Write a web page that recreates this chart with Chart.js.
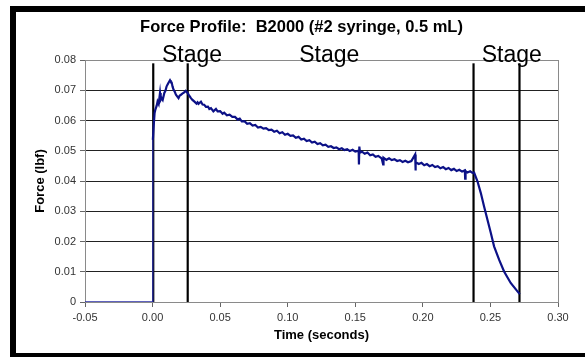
<!DOCTYPE html>
<html>
<head>
<meta charset="utf-8">
<script src="https://cdn.jsdelivr.net/npm/chart.js@4.4.1/dist/chart.umd.min.js"></script>
<style>
    html, body { margin: 0; padding: 0; background: #fff; overflow: hidden; }
    #wrap { position: relative; width: 585px; height: 357px; }
    #frame {
        position: absolute; left: 10px; top: 6px; width: 700px; height: 353px;
        box-sizing: border-box; border: 6px solid #000; border-right: none;
        pointer-events: none;
    }
</style>
</head>
<body>
<div id="wrap">
    <canvas id="myChart" width="585" height="357"></canvas>
    <div id="frame"></div>
</div>
<script>
// baseline before the plunger moves
var baseTime = [-0.05, 0.0, 0.0002];
var baseForce = [0, 0, 0.0536];

// force trace (seconds, lbf)
var timeData = [
    0.0002, 0.0008, 0.0015, 0.002, 0.003, 0.0037, 0.0045, 0.0055, 0.006, 0.0067,
    0.0075, 0.0087, 0.0095, 0.0104, 0.0115, 0.0129, 0.0135, 0.0141, 0.0148, 0.0155,
    0.0165, 0.0173, 0.0182, 0.0192, 0.020, 0.021, 0.022, 0.0234, 0.0245, 0.0259,
    0.027, 0.0284, 0.0295, 0.0308, 0.0325, 0.0333, 0.034, 0.0358, 0.037, 0.0382,
    0.0395, 0.041, 0.042, 0.0432, 0.045, 0.0469, 0.0481, 0.050, 0.0518, 0.053,
    0.055, 0.057, 0.059, 0.061, 0.063, 0.0645, 0.066, 0.068, 0.070, 0.072,
    0.074, 0.076, 0.078, 0.080, 0.082, 0.084, 0.086, 0.088, 0.090, 0.092,
    0.094, 0.096, 0.098, 0.100, 0.102, 0.104, 0.106, 0.108, 0.110, 0.112,
    0.114, 0.116, 0.118, 0.120, 0.122, 0.124, 0.126, 0.128, 0.130, 0.132,
    0.134, 0.136, 0.138, 0.140, 0.142, 0.144, 0.146, 0.148, 0.150, 0.1525,
    0.1527, 0.1530, 0.1535, 0.155, 0.157, 0.159, 0.161, 0.163, 0.165, 0.167,
    0.1695, 0.1706, 0.1709, 0.173, 0.175, 0.177, 0.179, 0.181, 0.183, 0.185,
    0.187, 0.189, 0.1915, 0.1943, 0.1945, 0.1948, 0.197, 0.199, 0.201, 0.203,
    0.205, 0.207, 0.209, 0.211, 0.213, 0.215, 0.217, 0.219, 0.221, 0.223,
    0.225, 0.227, 0.229, 0.2311, 0.2313, 0.2316, 0.233, 0.235, 0.2367, 0.2379,
    0.2404, 0.2429, 0.2453, 0.2478, 0.2503, 0.2527, 0.2564, 0.2601, 0.265, 0.27,
    0.2717
];
var forceData = [
    0.0536, 0.058, 0.0625, 0.0635, 0.0648, 0.0663, 0.0655, 0.0691, 0.0668, 0.0674,
    0.0668, 0.0691, 0.0698, 0.0713, 0.0722, 0.0733, 0.0728, 0.0726, 0.0712, 0.0702,
    0.0694, 0.0685, 0.0680, 0.0674, 0.0682, 0.0685, 0.0689, 0.0693, 0.0698, 0.0691,
    0.0683, 0.0674, 0.0668, 0.0663, 0.0656, 0.0660, 0.0655, 0.0662, 0.0653, 0.0652,
    0.0645, 0.0646, 0.0638, 0.0641, 0.0630, 0.0638, 0.0630, 0.0631, 0.0622, 0.0626,
    0.0617, 0.0619, 0.0612, 0.0612, 0.0603, 0.0606, 0.0597, 0.0598, 0.0589, 0.0591,
    0.0583, 0.0585, 0.0577, 0.0579, 0.0573, 0.0575, 0.0568, 0.0570, 0.0563, 0.0566,
    0.0558, 0.0561, 0.0553, 0.0556, 0.0549, 0.0551, 0.0543, 0.0546, 0.0537, 0.0540,
    0.0532, 0.0535, 0.0527, 0.0530, 0.0522, 0.0525, 0.0518, 0.0520, 0.0513, 0.0515,
    0.0509, 0.0511, 0.0505, 0.0508, 0.0502, 0.0505, 0.0499, 0.0503, 0.0497, 0.0500,
    0.0455, 0.0514, 0.0494, 0.0497, 0.0490, 0.0494, 0.0485, 0.0488, 0.0480, 0.0483,
    0.0475, 0.0455, 0.0477, 0.0470, 0.0475, 0.0469, 0.0472, 0.0466, 0.0469, 0.0463,
    0.0467, 0.0462, 0.0466, 0.0488, 0.0435, 0.0462, 0.0456, 0.0460, 0.0452, 0.0456,
    0.0449, 0.0453, 0.0446, 0.0449, 0.0442, 0.0446, 0.0439, 0.0443, 0.0436, 0.0440,
    0.0433, 0.0437, 0.0431, 0.0435, 0.0408, 0.0433, 0.0428, 0.0432, 0.0427, 0.0428,
    0.0399, 0.036, 0.0316, 0.0272, 0.0228, 0.0184, 0.014, 0.0101, 0.0063, 0.0035,
    0.0026
];

// stage boundaries and labels
var stageLines = [0.0005, 0.026, 0.2375, 0.2715];
var stageTop = 0.0789;
var stageNames = ['Stage', 'Stage', 'Stage'];
var stageLabelX = [0.007, 0.1085, 0.2436];

var chartTitle = 'Force Profile:  B2000 (#2 syringe, 0.5 mL)';
var xTicks = [-0.05, 0.0, 0.05, 0.10, 0.15, 0.20, 0.25, 0.30];
var yTicks = [0, 0.01, 0.02, 0.03, 0.04, 0.05, 0.06, 0.07, 0.08];

function toPoints(xs, ys) {
    var pts = [];
    for (var i = 0; i < xs.length; i++) {
        pts.push({x: xs[i], y: ys[i]});
    }
    return pts;
}

var datasets = [
    {data: toPoints(baseTime, baseForce), borderColor: '#2b2fa8', borderWidth: 1.3},
    {data: toPoints(timeData, forceData), borderColor: '#0c1187', borderWidth: 2.2}
];
stageLines.forEach(function (t) {
    datasets.push({data: [{x: t, y: 0}, {x: t, y: stageTop}], borderColor: '#000', borderWidth: 2.2});
});

var textPlugin = {
    id: 'textPlugin',
    afterDraw: function (chart) {
        var ctx = chart.ctx;
        var area = chart.chartArea;
        var xs = chart.scales.x;
        ctx.save();
        ctx.fillStyle = '#000';
        ctx.textBaseline = 'alphabetic';
        ctx.textAlign = 'center';
        ctx.font = 'bold 16.5px "Liberation Sans", Arial, sans-serif';
        ctx.fillText(chartTitle, 301.5, 32);
        ctx.textAlign = 'left';
        ctx.font = '23px "Liberation Sans", Arial, sans-serif';
        for (var i = 0; i < stageNames.length; i++) {
            ctx.fillText(stageNames[i], xs.getPixelForValue(stageLabelX[i]), area.top + 1.5);
        }
        ctx.restore();
    }
};

var near = function (a, b) { return Math.abs(a - b) < 1e-9; };

var ctx = document.getElementById('myChart');
var myChart = new Chart(ctx, {
    type: 'line',
    data: {datasets: datasets},
    plugins: [textPlugin],
    options: {
        responsive: false,
        animation: false,
        events: [],
        elements: {point: {radius: 0}, line: {tension: 0, fill: false}},
        layout: {padding: {top: 60, right: 27, left: 0, bottom: 0}},
        plugins: {legend: {display: false}, tooltip: {enabled: false}, title: {display: false}},
        scales: {
            x: {
                type: 'linear',
                min: -0.05,
                max: 0.30,
                afterBuildTicks: function (scale) {
                    scale.ticks = xTicks.map(function (v) { return {value: v}; });
                },
                afterFit: function (scale) { scale.height = 55; },
                ticks: {
                    autoSkip: false,
                    maxRotation: 0,
                    padding: 4,
                    color: '#333',
                    font: {family: '"Liberation Sans", Arial, sans-serif', size: 11},
                    callback: function (v) { return Number(v).toFixed(2); }
                },
                grid: {
                    drawOnChartArea: true,
                    tickLength: 5,
                    color: function (c) { return (c.tick && near(c.tick.value, 0.30)) ? '#8a8a8a' : 'rgba(0,0,0,0)'; },
                    tickColor: '#666'
                },
                border: {display: true, color: '#8a8a8a', width: 1},
                title: {
                    display: true,
                    text: 'Time (seconds)',
                    color: '#000',
                    font: {family: '"Liberation Sans", Arial, sans-serif', size: 13, weight: 'bold'},
                    padding: {top: 0, bottom: 14}
                }
            },
            y: {
                type: 'linear',
                min: 0,
                max: 0.08,
                afterBuildTicks: function (scale) {
                    scale.ticks = yTicks.map(function (v) { return {value: v}; });
                },
                afterFit: function (scale) { scale.width = 85; },
                ticks: {
                    padding: 4,
                    color: '#333',
                    font: {family: '"Liberation Sans", Arial, sans-serif', size: 11},
                    callback: function (v) { return v === 0 ? '0' : Number(v).toFixed(2); }
                },
                grid: {
                    tickLength: 5,
                    color: function (c) {
                        if (!c.tick) return '#222';
                        return near(c.tick.value, 0.08) ? '#8a8a8a' : '#222';
                    },
                    tickColor: '#666'
                },
                border: {display: true, color: '#8a8a8a', width: 1},
                title: {
                    display: true,
                    text: 'Force (lbf)',
                    color: '#000',
                    font: {family: '"Liberation Sans", Arial, sans-serif', size: 13, weight: 'bold'},
                    padding: {top: 33, bottom: 0}
                }
            }
        }
    }
});
</script>
</body>
</html>
